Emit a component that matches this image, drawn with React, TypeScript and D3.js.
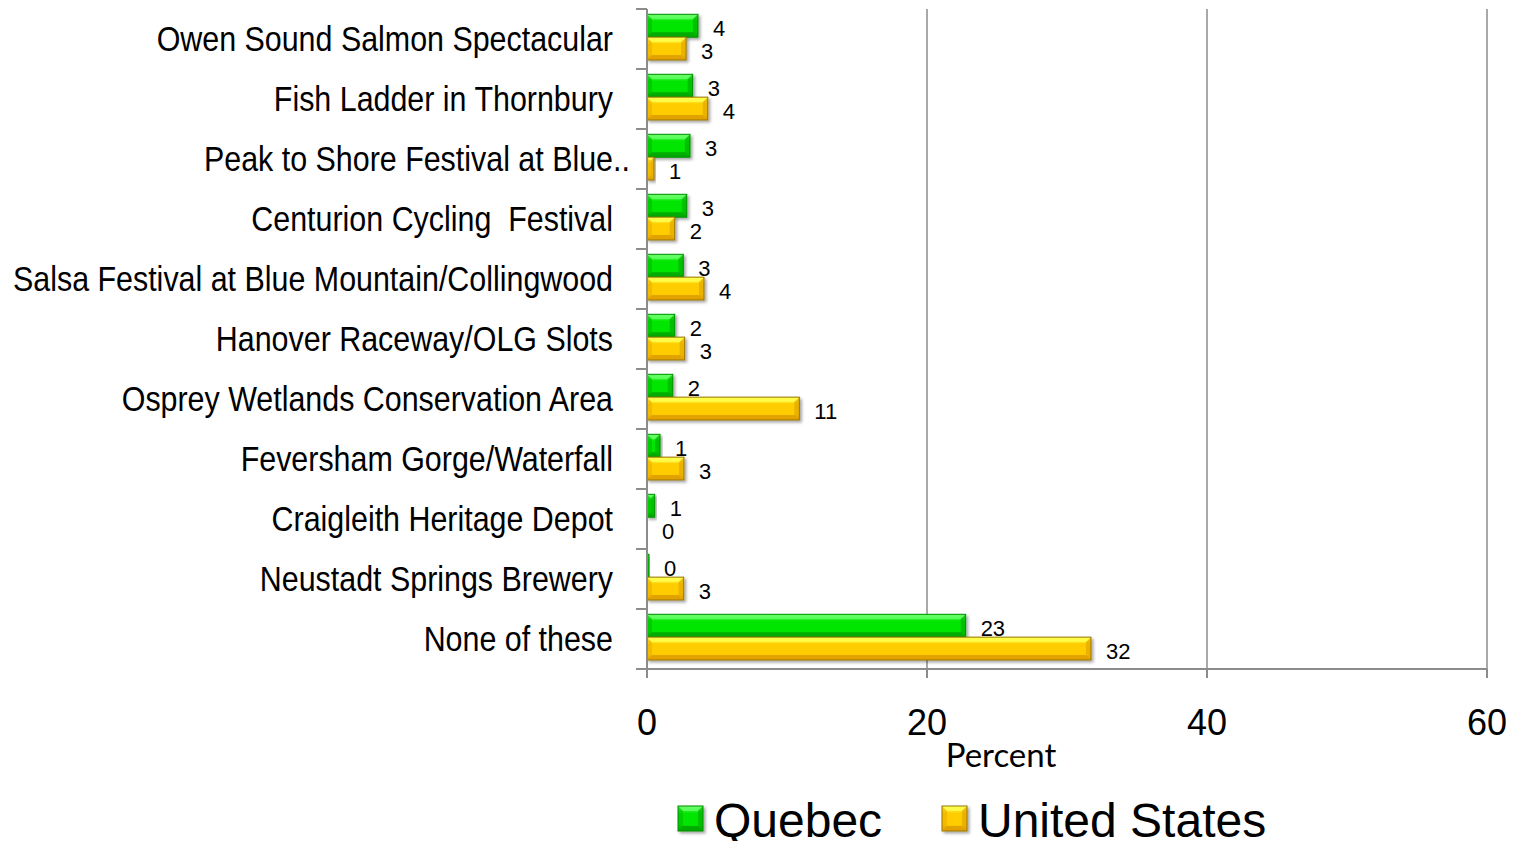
import React, { useEffect, useRef } from 'react';
import * as d3 from 'd3';

const categories = [
  'Owen Sound Salmon Spectacular',
  'Fish Ladder in Thornbury',
  'Peak to Shore Festival at Blue..',
  'Centurion Cycling  Festival',
  'Salsa Festival at Blue Mountain/Collingwood',
  'Hanover Raceway/OLG Slots',
  'Osprey Wetlands Conservation Area',
  'Feversham Gorge/Waterfall',
  'Craigleith Heritage Depot',
  'Neustadt Springs Brewery',
  'None of these'
];
const quebec = [3.64, 3.26, 3.07, 2.84, 2.59, 1.98, 1.84, 0.93, 0.55, 0.14, 22.76];
const unitedStates = [2.79, 4.34, 0.5, 1.98, 4.07, 2.69, 10.88, 2.64, 0, 2.62, 31.71];
const seriesNames = ['Quebec', 'United States'];
const xTicks = [0, 20, 40, 60];

const palette = [
  { light: '#66ff66', main: '#00e600', dark: '#00a800', edge: '#008f00' },
  { light: '#ffff4d', main: '#ffcc00', dark: '#e0a000', edge: '#9a7600' }
];

const sans = "'Liberation Sans', Arial, sans-serif";

export default function App() {
  const svgRef = useRef<SVGSVGElement>(null);

  useEffect(() => {
    if (!svgRef.current) return;
    const svg = d3.select(svgRef.current);
    svg.selectAll('*').remove();

    const width = 1516;
    const height = 841;
    svg.attr('width', width).attr('height', height);

    const x = d3.scaleLinear().domain([0, 60]).range([647, 1487]);
    const y = d3.scaleBand<string>().domain(categories).range([9, 669]);
    const inner = d3.scaleBand<number>().domain([0, 1]).range([5.3, 51]);

    const defs = svg.append('defs');
    const shadow = defs.append('filter').attr('id', 'shadow')
      .attr('x', '-10%').attr('y', '-30%').attr('width', '130%').attr('height', '180%');
    shadow.append('feDropShadow')
      .attr('dx', 2).attr('dy', 2).attr('stdDeviation', 1.5)
      .attr('flood-color', '#000').attr('flood-opacity', 0.35);

    palette.forEach((c, i) => {
      const g = defs.append('linearGradient').attr('id', `grad${i}`)
        .attr('x1', 0).attr('y1', 0).attr('x2', 0).attr('y2', 1);
      g.append('stop').attr('offset', '0%').attr('stop-color', c.light);
      g.append('stop').attr('offset', '30%').attr('stop-color', c.main);
      g.append('stop').attr('offset', '75%').attr('stop-color', c.main);
      g.append('stop').attr('offset', '100%').attr('stop-color', c.dark);
    });

    const grid = '#8c8c8c';

    // gridlines
    svg.append('g').selectAll('line')
      .data(xTicks.slice(1))
      .enter().append('line')
      .attr('x1', (d) => x(d)).attr('x2', (d) => x(d))
      .attr('y1', 9).attr('y2', 678)
      .attr('stroke', grid).attr('stroke-width', 1.5);

    // bevelled bar
    const drawBar = (parent: any, x0: number, x1: number, y0: number, h: number, s: number) => {
      const w = x1 - x0;
      if (w <= 0) return;
      const c = palette[s];
      const g = parent.append('g').attr('filter', 'url(#shadow)');
      g.append('rect')
        .attr('x', x0).attr('y', y0).attr('width', w).attr('height', h)
        .attr('fill', `url(#grad${s})`);
      const b = Math.min(5, w / 2);
      const y1 = y0 + h;
      const poly = (pts: number[][], fill: string, op: number) =>
        g.append('polygon').attr('points', pts.map((p) => p.join(',')).join(' '))
          .attr('fill', fill).attr('opacity', op);
      poly([[x0, y0], [x1, y0], [x1 - b, y0 + b], [x0 + b, y0 + b]], c.light, 0.8);
      poly([[x0, y1], [x1, y1], [x1 - b, y1 - b], [x0 + b, y1 - b]], c.dark, 0.9);
      poly([[x1, y0], [x1, y1], [x1 - b, y1 - b], [x1 - b, y0 + b]], c.dark, 0.6);
      poly([[x0, y0], [x0, y1], [x0 + b, y1 - b], [x0 + b, y0 + b]], c.dark, 0.4);
      g.append('rect')
        .attr('x', x0).attr('y', y0).attr('width', w).attr('height', h)
        .attr('fill', 'none').attr('stroke', c.edge).attr('stroke-width', 1);
    };

    const bars = svg.append('g');
    const labels = svg.append('g')
      .attr('font-family', sans)
      .attr('font-size', 22)
      .attr('fill', '#000');

    [quebec, unitedStates].forEach((vals, s) => {
      vals.forEach((v, i) => {
        const y0 = (y(categories[i]) as number) + (inner(s) as number);
        const h = inner.bandwidth();
        drawBar(bars, x(0), x(v), y0, h, s);
        labels.append('text')
          .attr('x', x(v) + 15)
          .attr('y', y0 + h / 2 + 10)
          .text(String(Math.round(v)));
      });
    });

    // axes
    const axis = svg.append('g').attr('stroke', grid).attr('stroke-width', 2);
    axis.append('line').attr('x1', x(0)).attr('x2', x(0)).attr('y1', 9).attr('y2', 678);
    axis.append('line').attr('x1', 636).attr('x2', x(60)).attr('y1', 669).attr('y2', 669);
    const bounds = categories.map((c) => y(c) as number).concat([669]);
    axis.selectAll('.yt').data(bounds).enter().append('line')
      .attr('x1', 636).attr('x2', x(0))
      .attr('y1', (d) => d).attr('y2', (d) => d);
    axis.selectAll('.xt').data(xTicks).enter().append('line')
      .attr('x1', (d) => x(d)).attr('x2', (d) => x(d))
      .attr('y1', 669).attr('y2', 678);

    // tick labels
    svg.append('g').selectAll('text').data(xTicks).enter().append('text')
      .attr('x', (d) => x(d)).attr('y', 735)
      .attr('text-anchor', 'middle')
      .attr('font-family', sans)
      .attr('font-size', 36)
      .text((d) => d);

    svg.append('text')
      .attr('x', 1001).attr('y', 767)
      .attr('text-anchor', 'middle')
      .attr('font-family', "Lato, 'Open Sans', sans-serif")
      .attr('font-size', 33)
      .text('Percent');

    // category labels: Arial-Narrow look, Liberation Sans squeezed horizontally
    const cat = svg.append('g')
      .attr('font-family', sans)
      .attr('font-size', 36);
    const squeeze = 0.845;
    categories.forEach((c) => {
      const cy = (y(c) as number) + y.bandwidth() / 2 + 12;
      const t = cat.append('g').attr('transform', `translate(613,${cy}) scale(${squeeze},1)`);
      if (c.endsWith('..')) {
        t.append('text').attr('text-anchor', 'end').text(c.slice(0, -2));
        t.append('text').attr('text-anchor', 'start').text('..');
      } else {
        t.append('text').attr('text-anchor', 'end').attr('xml:space', 'preserve').text(c);
      }
    });

    // legend
    const legend = svg.append('g');
    const legendX = [678, 942];
    seriesNames.forEach((name, s) => {
      drawBar(legend, legendX[s], legendX[s] + 25, 806, 25, s);
      legend.append('text')
        .attr('x', legendX[s] + 36).attr('y', 837)
        .attr('font-family', sans)
        .attr('font-size', 48)
        .text(name);
    });
  }, []);

  return (
    <div style={{ position: 'absolute', left: 0, top: 0 }}>
      <svg ref={svgRef} style={{ display: 'block' }} />
    </div>
  );
}
